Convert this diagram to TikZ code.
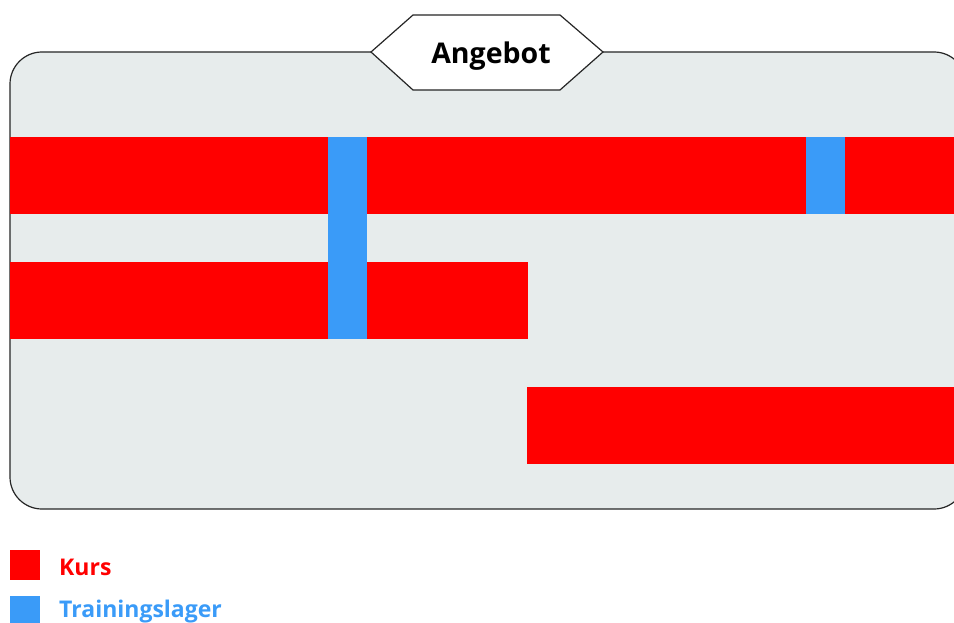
\documentclass[tikz,border=0pt]{standalone}
\usepackage{fontspec}
\setmainfont{Open Sans}
\definecolor{kursred}{HTML}{FF0000}
\definecolor{lagerblue}{HTML}{3A9BF8}
\definecolor{panelbg}{HTML}{E7ECEC}
\tikzset{
  panel/.style={draw=black!85, line width=1.2pt, fill=panelbg, rounded corners=32pt},
  hexa/.style={draw=black!85, line width=1.2pt, fill=white},
  kurs/.style={fill=kursred, draw=none, inner sep=0pt, anchor=north west},
  lager/.style={fill=lagerblue, draw=none, inner sep=0pt, anchor=north west},
  legtext/.style={anchor=west, inner sep=0pt, font=\bfseries\fontsize{23}{25}\selectfont},
}
\begin{document}
\begin{tikzpicture}[x=1pt,y=1pt]
\useasboundingbox (0,0) rectangle (954,-623);
\clip (0,0) rectangle (954,-623);
\draw[panel] (10,-52) rectangle (966,-509);
% bars
\node[kurs, minimum width=944pt, minimum height=77pt] (k1) at (10,-137) {};
\node[kurs, minimum width=518pt, minimum height=77pt] (k2) at (10,-262) {};
\node[kurs, minimum width=427pt, minimum height=77pt] (k3) at (527,-387) {};
\node[lager, minimum width=39pt, minimum height=202pt] (t1) at (328,-137) {};
\node[lager, minimum width=39pt, minimum height=77pt] (t2) at (806,-137) {};
% title
\draw[hexa] (371,-52) -- (413,-15) -- (560,-15) -- (603,-52) -- (560,-90) -- (413,-90) -- cycle;
\node[font=\bfseries\fontsize{28.5}{30}\selectfont, inner sep=0pt, anchor=base] (title) at (491,-64) {Angebot};
% legend
\node[fill=kursred, inner sep=0pt, minimum size=30pt, anchor=north west] (lk) at (10,-550) {};
\node[legtext, text=kursred] (lkt) at (59,-567) {Kurs};
\node[fill=lagerblue, inner sep=0pt, minimum size=30pt, anchor=north west] (lt) at (10,-596) {};
\node[legtext, text=lagerblue] (ltt) at (59,-612) {Trainingslager};
\end{tikzpicture}
\end{document}
